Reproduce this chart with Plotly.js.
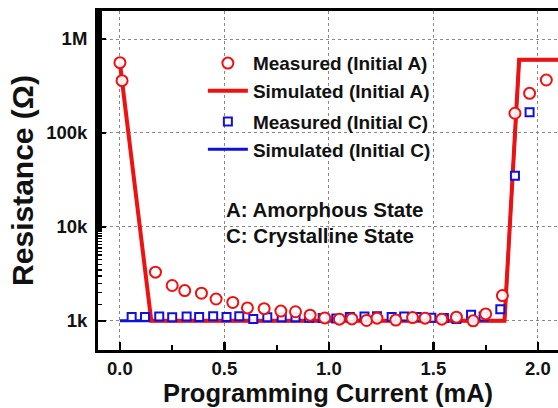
<!DOCTYPE html>
<html>
<head>
<meta charset="utf-8">
<script src="https://cdn.plot.ly/plotly-3.0.1.min.js"></script>
<style>html,body{margin:0;padding:0;background:#fff;}#chart{width:558px;height:408px;}</style>
</head>
<body>
<div id="chart"></div>
<script>
// Measured (Initial A) – red open circles
const measAx = [0.00, 0.01, 0.17, 0.25, 0.31, 0.39, 0.46, 0.54, 0.61, 0.69, 0.77, 0.84, 0.91, 0.98, 1.05, 1.11, 1.18, 1.23, 1.32, 1.40, 1.46, 1.54, 1.61, 1.69, 1.75, 1.83, 1.89, 1.96, 2.04];
const measAy = [560000, 360000, 3300, 2380, 2100, 1970, 1710, 1570, 1375, 1350, 1270, 1250, 1150, 1076, 1042, 1050, 1010, 1068, 1020, 1084, 1068, 1042, 1095, 1000, 1187, 1857, 162000, 264000, 366000];
// Simulated (Initial A) – red line
const simAx = [0.00, 0.01, 0.15, 1.84, 1.91, 2.20];
const simAy = [560000, 360000, 1000, 1000, 600000, 600000];
// Measured (Initial C) – blue open squares
const measCx = [0.056, 0.12, 0.188, 0.25, 0.319, 0.379, 0.446, 0.51, 0.571, 0.638, 0.705, 0.774, 0.84, 0.905, 0.97, 1.035, 1.10, 1.17, 1.23, 1.30, 1.36, 1.42, 1.49, 1.55, 1.61, 1.68, 1.74, 1.82, 1.89, 1.96];
const measCy = [1100, 1100, 1110, 1090, 1110, 1100, 1120, 1100, 1120, 1050, 1090, 1090, 1090, 1080, 1070, 1060, 1100, 1110, 1120, 1100, 1110, 1100, 1080, 1070, 1050, 1160, 1110, 1330, 35000, 166000];
// Simulated (Initial C) – blue line
const simCx = [0.00, 1.84, 1.91, 2.20];
const simCy = [1000, 1000, 600000, 600000];

const yTickVals = [1000, 10000, 100000, 1000000];
const yTickText = ['1k', '10k', '100k', '1M'];

const RED = '#ee1111';
const BLUE = '#1010dd';
const FONT = 'Liberation Sans, Arial, sans-serif';

const traces = [
  {x: simCx, y: simCy, mode: 'lines', name: 'Simulated (Initial C)',
   line: {color: BLUE, width: 3}, legendrank: 4, legendgroup: 'C'},
  {x: simAx, y: simAy, mode: 'lines', name: 'Simulated (Initial A)',
   line: {color: RED, width: 4}, legendrank: 2, legendgroup: 'A'},
  {x: measCx, y: measCy, mode: 'markers', name: 'Measured (Initial C)',
   marker: {symbol: 'square', size: 8, color: 'rgba(255,255,255,0.9)', line: {color: BLUE, width: 2}},
   legendrank: 3, legendgroup: 'C'},
  {x: measAx, y: measAy, mode: 'markers', name: 'Measured (Initial A)',
   marker: {symbol: 'circle', size: 11, color: 'rgba(255,255,255,0.9)', line: {color: RED, width: 2}},
   legendrank: 1, legendgroup: 'A'}
];

const layout = {
  width: 558, height: 408,
  margin: {l: 98, r: 0, t: 11, b: 58},
  paper_bgcolor: '#fff', plot_bgcolor: '#fff',
  font: {family: FONT, color: '#111'},
  showlegend: true,
  legend: {
    x: 0.228, y: 0.902, xanchor: 'left', yanchor: 'top',
    bgcolor: 'rgba(0,0,0,0)', borderwidth: 0,
    font: {family: FONT, size: 19, weight: 'bold', color: '#111'},
    tracegroupgap: 3, itemwidth: 40, traceorder: 'grouped'
  },
  xaxis: {
    range: [-0.105, 2.096],
    tick0: 0, dtick: 0.5, tickformat: '.1f',
    ticks: 'inside', ticklen: 8, tickwidth: 2.5, tickcolor: '#000',
    minor: {ticks: 'inside', ticklen: 5, tickwidth: 2, tickcolor: '#000', dtick: 0.25, showgrid: false},
    showline: true, linewidth: 3, linecolor: '#000', mirror: true,
    showgrid: true, gridcolor: '#888', griddash: 'dot', gridwidth: 1,
    zeroline: false,
    tickfont: {family: FONT, size: 18.5, weight: 'bold', color: '#111'},
    title: {text: 'Programming Current (mA)', font: {family: FONT, size: 25.5, weight: 'bold', color: '#111'}, standoff: 5}
  },
  yaxis: {
    type: 'log',
    range: [2.69, 6.298],
    tickvals: yTickVals, ticktext: yTickText,
    ticks: 'inside', ticklen: 8, tickwidth: 2.5, tickcolor: '#000',
    minor: {ticks: 'inside', ticklen: 4, tickwidth: 1.5, tickcolor: '#000', showgrid: false},
    showline: true, linewidth: 3, linecolor: '#000', mirror: false,
    showgrid: true, gridcolor: '#888', griddash: 'dot', gridwidth: 1,
    zeroline: false,
    ticklabelstandoff: 4,
    tickfont: {family: FONT, size: 18.5, weight: 'bold', color: '#111'},
    title: {text: 'Resistance (Ω)', font: {family: FONT, size: 30, weight: 'bold', color: '#111'}, standoff: 4}
  },
  annotations: [
    {xref: 'x', yref: 'paper', x: 0.50, y: (350 - 210) / 339, xanchor: 'left', yanchor: 'middle',
     text: 'A: Amorphous State', showarrow: false, font: {family: FONT, size: 20.5, weight: 'bold', color: '#111'}},
    {xref: 'x', yref: 'paper', x: 0.50, y: (350 - 236) / 339, xanchor: 'left', yanchor: 'middle',
     text: 'C: Crystalline State', showarrow: false, font: {family: FONT, size: 20.5, weight: 'bold', color: '#111'}}
  ]
};

Plotly.newPlot('chart', traces, layout, {displayModeBar: false, staticPlot: true});
</script>
</body>
</html>
